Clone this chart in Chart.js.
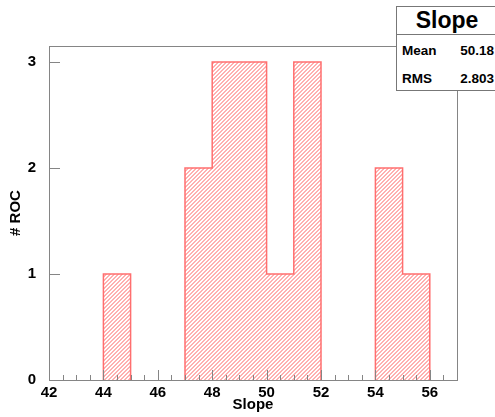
<!DOCTYPE html>
<html>
<head>
<meta charset="utf-8">
<script src="https://cdn.jsdelivr.net/npm/chart.js@4.4.1/dist/chart.umd.min.js"></script>
<style>
  body { margin: 0; background: #fff; font-family: "Liberation Sans", Arial, sans-serif; }
  #wrap { position: relative; width: 495px; height: 417px; overflow: hidden; }
  #stats { position: absolute; left: 396px; top: 6px; width: 110px; height: 83px;
           border: 1px solid #777; background: #fff; font-weight: bold; color: #000; }
  #stats .title { height: 27px; border-bottom: 1px solid #777; font-size: 23px; line-height: 27px;
                  width: 100px; text-align: center; }
  #stats .row { position: absolute; left: 5px; width: 92px; font-size: 13.5px; }
  #stats .row span { position: absolute; right: 0; }
</style>
</head>
<body>
<div id="wrap">
  <canvas id="hist" width="495" height="417"></canvas>
  <div id="stats">
    <div class="title">Slope</div>
    <div class="row" style="top:36px">Mean<span>50.18</span></div>
    <div class="row" style="top:64px">RMS<span>2.803</span></div>
  </div>
</div>
<script>
// histogram bins (lower edge, width 1) and entries
const binLow = [42, 43, 44, 45, 46, 47, 48, 49, 50, 51, 52, 53, 54, 55, 56];
const counts = [0, 0, 1, 0, 0, 2, 3, 3, 1, 3, 0, 0, 2, 1, 0];
const binWidth = 1;

const xTicks = [42, 44, 46, 48, 50, 52, 54, 56];
const yTicks = [0, 1, 2, 3];
const xMin = 42, xMax = 57;
const yMax = 3.15;

const lineRed = '#ff6f6f';
const axisGray = '#858585';

// turn the bins into a stepped outline, broken where bins are empty
function stepPoints() {
    let pts = [];
    for (let i = 0; i < counts.length; i++) {
        const c = counts[i];
        if (c === 0) continue;
        const lo = binLow[i], hi = binLow[i] + binWidth;
        if (i === 0 || counts[i - 1] === 0) pts.push({x: lo, y: 0});
        pts.push({x: lo, y: c});
        pts.push({x: hi, y: c});
        if (i === counts.length - 1 || counts[i + 1] === 0) {
            pts.push({x: hi, y: 0});
            pts.push({x: hi, y: null});
        }
    }
    return pts;
}

function hatch() {
    const s = 4;
    const c = document.createElement('canvas');
    c.width = s; c.height = s;
    const g = c.getContext('2d');
    g.fillStyle = '#ffb0b0';
    for (let i = 0; i < s; i++) {
        g.fillRect(i, s - 1 - i, 1, 1);
        g.fillRect((i + 1) % s, s - 1 - i, 1, 1);
    }
    return g.createPattern(c, 'repeat');
}

// ROOT style: box frame and ticks pointing into the plot
const rootFrame = {
    id: 'rootFrame',
    afterDatasetsDraw(chart) {
        const {ctx, chartArea: a, scales: {x, y}} = chart;
        ctx.save();
        ctx.strokeStyle = axisGray;
        ctx.lineWidth = 1;
        ctx.beginPath();
        for (let v = xMin; v < xMax; v += 0.5) {
            const px = Math.round(x.getPixelForValue(v)) + 0.5;
            const len = xTicks.includes(v) ? 10 : 5;
            ctx.moveTo(px, a.bottom);
            ctx.lineTo(px, a.bottom - len);
        }
        yTicks.forEach(v => {
            const py = Math.round(y.getPixelForValue(v)) + 0.5;
            ctx.moveTo(a.left, py);
            ctx.lineTo(a.left + 11, py);
        });
        ctx.stroke();
        ctx.strokeRect(Math.round(a.left) + 0.5, Math.round(a.top) + 0.5,
            Math.round(a.right - a.left), Math.round(a.bottom - a.top));
        ctx.restore();
    }
};

const tickFont = {family: 'Liberation Sans', size: 15, weight: 'bold'};

new Chart(document.getElementById('hist').getContext('2d'), {
    type: 'line',
    data: {
        datasets: [{
            data: stepPoints(),
            borderColor: lineRed,
            borderWidth: 1.5,
            backgroundColor: hatch(),
            fill: 'origin',
            tension: 0,
            pointRadius: 0,
            spanGaps: false
        }]
    },
    options: {
        responsive: false,
        animation: false,
        layout: { padding: { top: 46, right: 38, left: 0, bottom: 0 } },
        plugins: { legend: { display: false }, tooltip: { enabled: false } },
        scales: {
            x: {
                type: 'linear', min: xMin, max: xMax,
                grid: { display: false }, border: { display: false },
                afterBuildTicks: s => { s.ticks = xTicks.map(v => ({value: v})); },
                afterFit: s => { s.height = 37; },
                ticks: { font: tickFont, color: '#000', padding: -4, maxRotation: 0, autoSkip: false },
                title: { display: true, text: 'Slope', font: tickFont, color: '#000', padding: {top: 0, bottom: 3} }
            },
            y: {
                type: 'linear', min: 0, max: yMax,
                grid: { display: false }, border: { display: false },
                afterBuildTicks: s => { s.ticks = yTicks.map(v => ({value: v})); },
                afterFit: s => { s.width = 49; },
                ticks: { font: tickFont, color: '#000', padding: 5 },
                title: { display: true, text: '# ROC', font: tickFont, color: '#000', padding: {top: 7, bottom: 0} }
            }
        }
    },
    plugins: [rootFrame]
});
</script>
</body>
</html>
